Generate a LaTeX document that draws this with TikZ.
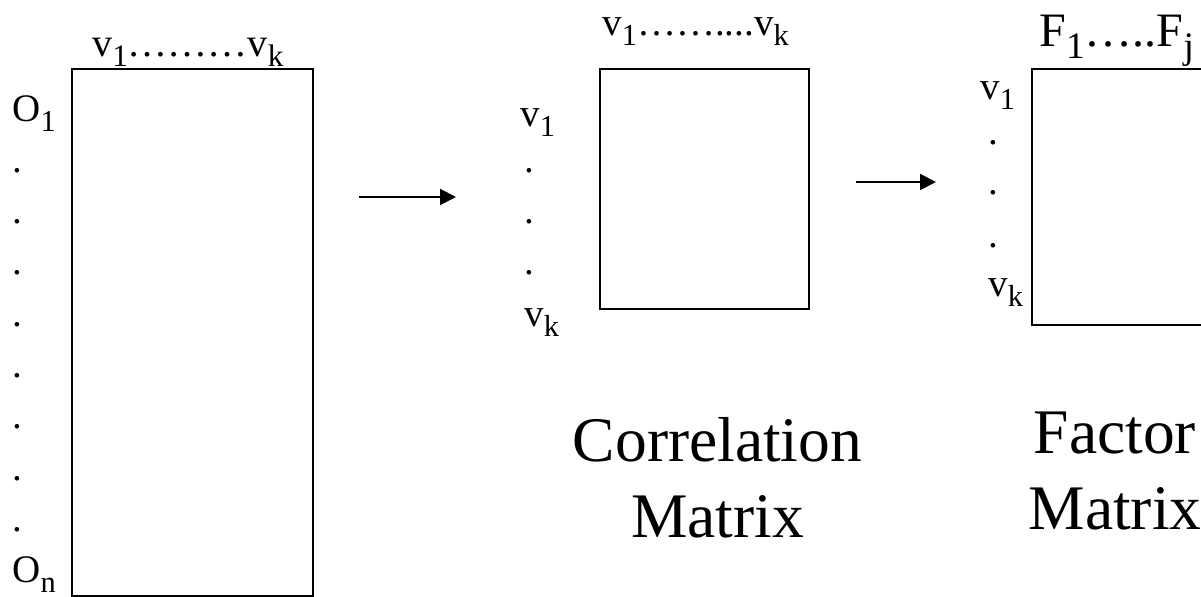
\documentclass[tikz,border=0pt]{standalone}
\usepackage{fontspec}
\setmainfont{Liberation Serif}
\usetikzlibrary{arrows.meta}
\newcommand{\sub}[1]{\raisebox{-0.25em}{\fontsize{0.78em}{1em}\selectfont #1}}
\tikzset{
  mat/.style={draw,line width=1pt,inner sep=0pt,outer sep=0pt,anchor=north west},
  lab/.style={inner sep=0pt,anchor=base west,font=\fontsize{19.5}{23}\selectfont},
  dotlab/.style={inner sep=0pt,anchor=base,font=\fontsize{19.5}{23}\selectfont},
  capt/.style={inner sep=0pt,anchor=base,align=center,font=\fontsize{31.75}{38}\selectfont},
  flow/.style={-{Triangle[length=8pt,width=8pt]},line width=1pt},
}

\begin{document}
\begin{tikzpicture}[x=0.5pt,y=-0.5pt]
    \useasboundingbox (0,0) rectangle (1201,597);
    \clip (0,0) rectangle (1201,597);
    % --- data matrix (observations x variables) ---
    \node[mat,minimum width=120.5pt,minimum height=263.5pt] (obs) at (72,69) {};
    \node[lab,font=\fontsize{20}{24}\selectfont] (obsTop) at (92,57) {v\sub{1}………v\sub{k}};
    \node[lab] (obsFirst) at (12,122) {O\sub{1}};
    \node[lab] (obsLast) at (12,583) {O\sub{n}};
    \foreach \y in {171,222,273,325,376,427,479,530}
      \node[dotlab] (obsDot\y) at (17,\y+2) {.};
    % --- correlation matrix ---
    \node[mat,minimum width=104.5pt,minimum height=120pt] (corr) at (600,69) {};
    \node[lab] (corrTop) at (602,36) {v\sub{1}……....v\sub{k}};
    \node[lab] (corrFirst) at (520,127) {v\sub{1}};
    \node[lab] (corrLast) at (524,327) {v\sub{k}};
    \foreach \y in {171,222,273}
      \node[dotlab] (corrDot\y) at (529,\y+2) {.};
    \node[capt] (corrCap) at (717.5,538) {Correlation\\Matrix};
    % --- factor matrix ---
    \node[mat,minimum width=120pt,minimum height=128pt] (fact) at (1032,69) {};
    \node[lab,font=\fontsize{24}{28}\selectfont] (factTop) at (1039,47) {F\sub{1}…..F\sub{j}};
    \node[lab] (factFirst) at (980,100) {v\sub{1}};
    \node[lab] (factLast) at (988,297) {v\sub{k}};
    \foreach \y in {143,193,246}
      \node[dotlab] (factDot\y) at (993,\y+2) {.};
    \node[capt] (factCap) at (1115,530) {Factor\\Matrix};
    % --- arrows between the stages ---
    \coordinate (toCorrA) at (359,197);
    \coordinate (toCorrB) at (456,197);
    \coordinate (toFactA) at (856,182);
    \coordinate (toFactB) at (936,182);
    \draw[flow] (toCorrA) -- (toCorrB);
    \draw[flow] (toFactA) -- (toFactB);
\end{tikzpicture}
\end{document}
